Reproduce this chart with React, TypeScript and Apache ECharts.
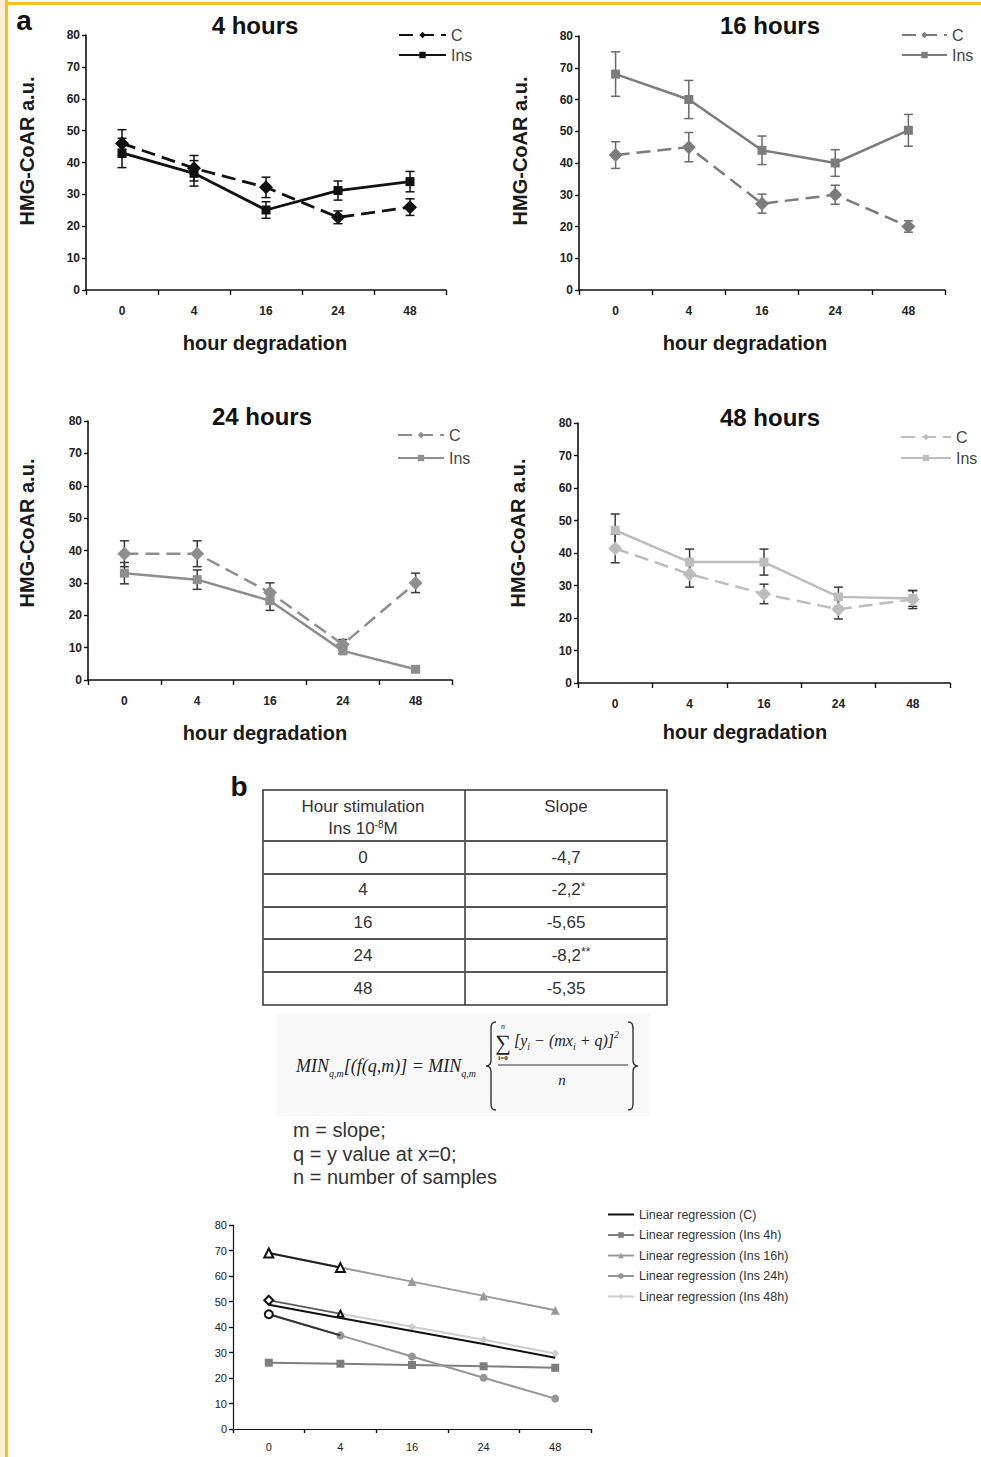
import React, { useEffect, useRef } from "react";
import * as echarts from "echarts";

// ---------- data ----------
const hours = ["0", "4", "16", "24", "48"];

// panel "4 hours"
const c4h = [46, 38.2, 32.2, 22.8, 26];
const c4hErr = [4.3, 4, 3.2, 2, 2.6];
const ins4h = [43, 36.6, 25.1, 31.2, 34];
const ins4hErr = [4.6, 4, 2.6, 3, 3.2];

// panel "16 hours"
const c16h = [42.5, 45, 27.2, 30, 20];
const c16hErr = [4.2, 4.6, 3, 3, 1.8];
const ins16h = [68, 60, 44, 40, 50.3];
const ins16hErr = [7, 6, 4.5, 4.2, 5];

// panel "24 hours"
const c24h = [39, 39, 27, 11, 30];
const c24hErr = [4, 4, 3, 1.5, 3];
const ins24h = [33, 31, 24.5, 9, 3.3];
const ins24hErr = [3.3, 3, 3, 1, 0.5];

// panel "48 hours"
const c48h = [41.4, 33.5, 27.4, 22.7, 25.7];
const c48hErr = [4.4, 4, 3, 3, 2.8];
const ins48h = [47, 37.2, 37.2, 26.5, 26];
const ins48hErr = [5, 4, 4, 3, 2.4];

// table (b)
const tableHours = ["0", "4", "16", "24", "48"];
const tableSlopes = ["-4,7", "-2,2", "-5,65", "-8,2", "-5,35"];
const tableMarks = ["", "*", "", "**", ""];

// linear regressions
const regC = [48.7, 43.5, 38.4, 33.3, 27.9];
const regIns4 = [26, 25.6, 25.1, 24.6, 24];
const regIns16 = [69, 63.3, 57.8, 52.2, 46.6];
const regIns24 = [45, 36.7, 28.4, 20.1, 11.9];
const regIns48 = [50.5, 45.2, 40.1, 35, 29.6];

const notes = ["m = slope;", "q = y value at x=0;", "n = number of samples"];

// ---------- layout / style ----------
const FONT = "Liberation Sans, Arial, Helvetica, sans-serif";
const SERIF = "Liberation Serif, Times New Roman, serif";

echarts.graphic.registerShape(
  "brace",
  echarts.graphic.extendPath(
    "M10,0 C6,0 5,2 5,7 L5,38 C5,42 3,44 0,44 C3,44 5,46 5,50 L5,81 C5,86 6,88 10,88",
    {}
  )
);

const panelData = [
  { c: c4h, cErr: c4hErr, ins: ins4h, insErr: ins4hErr },
  { c: c16h, cErr: c16hErr, ins: ins16h, insErr: ins16hErr },
  { c: c24h, cErr: c24hErr, ins: ins24h, insErr: ins24hErr },
  { c: c48h, cErr: c48hErr, ins: ins48h, insErr: ins48hErr },
];

const panelLayout = [
  { title: "4 hours", grid: { left: 86, top: 35, width: 360, height: 255 }, titlePos: [255, 25], yName: [27, 151], xName: [265, 343], legend: { left: 398, top: 26, itemWidth: 47, itemGap: 2 }, line: "#111111", err: "#111111" },
  { title: "16 hours", grid: { left: 579, top: 36, width: 366, height: 254 }, titlePos: [770, 25], yName: [520, 151], xName: [745, 343], legend: { left: 901, top: 26, itemWidth: 45, itemGap: 2 }, line: "#7c7c7c", err: "#6a6a6a" },
  { title: "24 hours", grid: { left: 88, top: 421, width: 364, height: 259 }, titlePos: [262, 416], yName: [27, 533], xName: [265, 733], legend: { left: 397, top: 426, itemWidth: 46, itemGap: 5 }, line: "#8e8e8e", err: "#3a3a3a" },
  { title: "48 hours", grid: { left: 578, top: 423, width: 372, height: 260 }, titlePos: [770, 417], yName: [518, 533], xName: [745, 732], legend: { left: 900, top: 428, itemWidth: 50, itemGap: 3 }, line: "#bdbdbd", err: "#3a3a3a" },
];

const bottomGrid = { left: 233, top: 1225, width: 358, height: 204 };

function errRender(color: string, cap: number) {
  return (params: any, api: any) => {
    const x = api.value(0);
    const lo = api.coord([x, api.value(1)]);
    const hi = api.coord([x, api.value(2)]);
    const style = { stroke: color, lineWidth: 1.5 };
    return {
      type: "group",
      children: [
        { type: "line", shape: { x1: lo[0], y1: lo[1], x2: hi[0], y2: hi[1] }, style },
        { type: "line", shape: { x1: lo[0] - cap, y1: lo[1], x2: lo[0] + cap, y2: lo[1] }, style },
        { type: "line", shape: { x1: hi[0] - cap, y1: hi[1], x2: hi[0] + cap, y2: hi[1] }, style },
      ],
    };
  };
}

function buildOption() {
  const grids: any[] = [...panelLayout.map((p) => p.grid), bottomGrid];
  const xAxis = grids.map((g, i) => ({
    type: "category",
    gridIndex: i,
    data: hours,
    boundaryGap: true,
    axisLine: { show: true, lineStyle: { color: "#111", width: i < 4 ? 1.6 : 1.2 } },
    axisTick: { show: true, length: i < 4 ? 5 : 4, lineStyle: { color: "#111", width: 1.4 } },
    axisLabel: { fontSize: i < 4 ? 12 : 11, fontWeight: i < 4 ? "bold" : "normal", color: "#222", margin: i < 4 ? 15 : 12, fontFamily: FONT },
    splitLine: { show: false },
  }));
  const yAxis = grids.map((g, i) => ({
    type: "value",
    gridIndex: i,
    min: 0,
    max: 80,
    interval: 10,
    axisLine: { show: true, lineStyle: { color: "#111", width: i < 4 ? 1.6 : 1.2 } },
    axisTick: { show: true, length: 4, lineStyle: { color: "#111", width: 1.4 } },
    axisLabel: { fontSize: i < 4 ? 12 : 11, fontWeight: i < 4 ? "bold" : "normal", color: "#222", margin: 6, fontFamily: FONT },
    splitLine: { show: false },
  }));

  const series: any[] = [];
  const legends: any[] = [];
  const graphics: any[] = [];

  panelLayout.forEach((p, i) => {
    const d = panelData[i];
    const w = i === 0 ? 2.8 : 2.5;
    series.push({
      type: "custom",
      name: `errC_${i}`,
      xAxisIndex: i,
      yAxisIndex: i,
      z: 1,
      renderItem: errRender(p.err, 4.5),
      encode: { x: 0, y: [1, 2] },
      data: d.c.map((v, k) => [k, v - d.cErr[k], v + d.cErr[k]]),
    });
    series.push({
      type: "custom",
      name: `errIns_${i}`,
      xAxisIndex: i,
      yAxisIndex: i,
      z: 1,
      renderItem: errRender(p.err, 4.5),
      encode: { x: 0, y: [1, 2] },
      data: d.ins.map((v, k) => [k, v - d.insErr[k], v + d.insErr[k]]),
    });
    series.push({
      type: "line",
      name: `C_${i}`,
      xAxisIndex: i,
      yAxisIndex: i,
      data: d.c,
      symbol: "diamond",
      symbolSize: 14,
      z: 3,
      itemStyle: { color: p.line },
      lineStyle: { color: p.line, width: w, type: [14, 7] },
    });
    series.push({
      type: "line",
      name: `Ins_${i}`,
      xAxisIndex: i,
      yAxisIndex: i,
      data: d.ins,
      symbol: "rect",
      symbolSize: 9,
      z: 3,
      itemStyle: { color: p.line },
      lineStyle: { color: p.line, width: w, type: "solid" },
    });
    legends.push({
      data: [`C_${i}`, `Ins_${i}`],
      orient: "vertical",
      left: p.legend.left,
      top: p.legend.top,
      itemWidth: p.legend.itemWidth,
      itemHeight: 8,
      itemGap: p.legend.itemGap,
      padding: 0,
      selectedMode: false,
      formatter: (name: string) => name.replace(/_.*$/, ""),
      textStyle: { fontSize: 16, lineHeight: 18, color: "#444", fontFamily: FONT },
    });
    graphics.push({
      type: "text",
      x: p.titlePos[0],
      y: p.titlePos[1],
      style: { text: p.title, fontSize: 24, fontWeight: "bold", fontFamily: FONT, fill: "#111", textAlign: "center", textVerticalAlign: "middle" },
    });
    graphics.push({
      type: "text",
      x: p.yName[0],
      y: p.yName[1],
      rotation: Math.PI / 2,
      style: { text: "HMG-CoAR a.u.", fontSize: 20, fontWeight: "bold", fontFamily: FONT, fill: "#1a1a1a", textAlign: "center", textVerticalAlign: "middle" },
    });
    graphics.push({
      type: "text",
      x: p.xName[0],
      y: p.xName[1],
      style: { text: "hour degradation", fontSize: 20, fontWeight: "bold", fontFamily: FONT, fill: "#1a1a1a", textAlign: "center", textVerticalAlign: "middle" },
    });
  });

  // bottom regression chart
  const bi = 4;
  const regDefs = [
    { name: "Linear regression (C)", data: regC, color: "#111111", symbol: "none", size: 0, width: 2 },
    { name: "Linear regression (Ins 4h)", data: regIns4, color: "#7e7e7e", symbol: "rect", size: 8, width: 2 },
    { name: "Linear regression (Ins 16h)", data: regIns16, color: "#9a9a9a", symbol: "triangle", size: 9, width: 2 },
    { name: "Linear regression (Ins 24h)", data: regIns24, color: "#969696", symbol: "circle", size: 8, width: 2 },
    { name: "Linear regression (Ins 48h)", data: regIns48, color: "#cdcdcd", symbol: "diamond", size: 8, width: 2 },
  ];
  regDefs.forEach((r) => {
    series.push({
      type: "line",
      name: r.name,
      xAxisIndex: bi,
      yAxisIndex: bi,
      data: r.data,
      symbol: r.symbol,
      symbolSize: r.size,
      z: r.name.indexOf("(C)") >= 0 ? 4 : 3,
      itemStyle: { color: r.color },
      lineStyle: { color: r.color, width: r.width },
    });
  });
  // dark first segments over regression lines
  series.push({
    type: "line",
    name: "ovl16",
    xAxisIndex: bi,
    yAxisIndex: bi,
    z: 5,
    data: regIns16.map((v, k) => (k < 2 ? v : "-")),
    symbol: "emptyTriangle",
    symbolSize: 9,
    itemStyle: { color: "#111" },
    lineStyle: { color: "#222", width: 2 },
  });
  series.push({
    type: "line",
    name: "ovl24",
    xAxisIndex: bi,
    yAxisIndex: bi,
    z: 5,
    data: regIns24.map((v, k) => (k === 0 ? { value: v, symbol: "emptyCircle" } : k === 1 ? { value: v, symbol: "none" } : "-")),
    symbolSize: 8,
    itemStyle: { color: "#111" },
    lineStyle: { color: "#333", width: 2 },
  });
  series.push({
    type: "line",
    name: "ovl48",
    xAxisIndex: bi,
    yAxisIndex: bi,
    z: 5,
    data: regIns48.map((v, k) => (k === 0 ? { value: v, symbol: "emptyDiamond" } : k === 1 ? { value: v, symbol: "emptyTriangle", symbolSize: 6 } : "-")),
    symbolSize: 9,
    itemStyle: { color: "#111" },
    lineStyle: { color: "#555", width: 1.6 },
  });
  legends.push({
    data: regDefs.map((r) => (r.symbol === "none" ? { name: r.name, itemStyle: { opacity: 0 } } : r.name)),
    orient: "vertical",
    left: 607,
    top: 1207,
    itemWidth: 26,
    itemHeight: 7,
    itemGap: 5.5,
    padding: 0,
    selectedMode: false,
    textStyle: { fontSize: 12.5, lineHeight: 15, color: "#333", fontFamily: FONT },
  });

  // page frame
  graphics.push({ type: "rect", shape: { x: 0, y: 0, width: 5, height: 1457 }, style: { fill: "#fdf0d2" }, z: 0 });
  graphics.push({ type: "rect", shape: { x: 5, y: 0, width: 3, height: 1457 }, style: { fill: "#f5c21b" }, z: 0 });
  graphics.push({ type: "rect", shape: { x: 5, y: 2, width: 976, height: 3 }, style: { fill: "#f5c21b" }, z: 0 });

  // panel letters
  graphics.push({ type: "text", x: 24, y: 20, style: { text: "a", fontSize: 28, fontWeight: "bold", fontFamily: FONT, fill: "#111", textAlign: "center", textVerticalAlign: "middle" } });
  graphics.push({ type: "text", x: 239, y: 786, style: { text: "b", fontSize: 28, fontWeight: "bold", fontFamily: FONT, fill: "#111", textAlign: "center", textVerticalAlign: "middle" } });

  // table
  const tL = 263, tR = 667, tT = 790, tB = 1005, tMid = 465;
  const rowLines = [841, 874, 907, 939, 972];
  graphics.push({ type: "rect", shape: { x: tL, y: tT, width: tR - tL, height: tB - tT }, style: { fill: "none", stroke: "#333", lineWidth: 1.5 } });
  graphics.push({ type: "line", shape: { x1: tMid, y1: tT, x2: tMid, y2: tB }, style: { stroke: "#333", lineWidth: 1.5 } });
  rowLines.forEach((y) => {
    graphics.push({ type: "line", shape: { x1: tL, y1: y, x2: tR, y2: y }, style: { stroke: "#555", lineWidth: 2 } });
  });
  const cellStyle = { fontSize: 17, fontFamily: FONT, fill: "#333", textAlign: "center", textVerticalAlign: "middle" };
  graphics.push({ type: "text", x: 363, y: 806, style: { ...cellStyle, text: "Hour stimulation" } });
  graphics.push({
    type: "text",
    x: 363,
    y: 828,
    style: { ...cellStyle, text: "Ins 10{sup|-8}M", lineHeight: 18, rich: { sup: { fontSize: 10, fontFamily: FONT, fill: "#333", verticalAlign: "top", lineHeight: 8 } } },
  });
  graphics.push({ type: "text", x: 566, y: 806, style: { ...cellStyle, text: "Slope" } });
  tableHours.forEach((h, k) => {
    const y = 857 + k * 32.8;
    graphics.push({ type: "text", x: 363, y, style: { ...cellStyle, text: h } });
    const mark = tableMarks[k];
    graphics.push({
      type: "text",
      x: 566 + (mark ? mark.length * 2.5 : 0),
      y,
      style: {
        ...cellStyle,
        text: mark ? `${tableSlopes[k]}{sup|${mark}}` : tableSlopes[k],
        lineHeight: 18,
        rich: { sup: { fontSize: 12, fontFamily: FONT, fill: "#333", verticalAlign: "top", lineHeight: 9 } },
      },
    });
  });

  // formula
  graphics.push({ type: "rect", shape: { x: 276, y: 1014, width: 374, height: 102 }, style: { fill: "#f8f8f8" }, z: 0 });
  const fStyle = { fontFamily: SERIF, fontStyle: "italic", fill: "#222" };
  const subRich = {
    s: { ...fStyle, fontSize: 10, verticalAlign: "bottom", lineHeight: 11 },
    p: { ...fStyle, fontSize: 10, verticalAlign: "top", lineHeight: 10 },
  };
  graphics.push({
    type: "text",
    x: 296,
    y: 1066,
    style: { ...fStyle, fontSize: 18, lineHeight: 24, text: "MIN{s|q,m}[(f(q,m)] = MIN{s|q,m}", textAlign: "left", textVerticalAlign: "middle", rich: subRich },
  });
  graphics.push({ type: "brace", x: 486, y: 1022, style: { stroke: "#333", fill: "none", lineWidth: 1.4 } });
  graphics.push({ type: "brace", x: 638, y: 1022, scaleX: -1, style: { stroke: "#333", fill: "none", lineWidth: 1.4 } });
  graphics.push({ type: "text", x: 503, y: 1042, style: { text: "∑", fontFamily: SERIF, fontSize: 22, fill: "#222", textAlign: "center", textVerticalAlign: "middle" } });
  graphics.push({ type: "text", x: 503, y: 1026, style: { fontFamily: SERIF, fontStyle: "italic", fill: "#222", text: "n", fontSize: 8, textAlign: "center", textVerticalAlign: "middle" } });
  graphics.push({ type: "text", x: 503, y: 1058, style: { fontFamily: SERIF, fontWeight: "bold", fill: "#222", text: "i=0", fontSize: 7, textAlign: "center", textVerticalAlign: "middle" } });
  graphics.push({
    type: "text",
    x: 514,
    y: 1040,
    style: { ...fStyle, fontSize: 16, lineHeight: 22, text: "[y{s|i} − (mx{s|i} + q)]{p|2}", textAlign: "left", textVerticalAlign: "middle", rich: subRich },
  });
  graphics.push({ type: "line", shape: { x1: 498, y1: 1065, x2: 628, y2: 1065 }, style: { stroke: "#333", lineWidth: 1 } });
  graphics.push({ type: "text", x: 562, y: 1080, style: { ...fStyle, text: "n", fontSize: 15, textAlign: "center", textVerticalAlign: "middle" } });

  // notes
  notes.forEach((t, k) => {
    graphics.push({ type: "text", x: 293, y: 1130 + k * 23.5, style: { text: t, fontSize: 20, fontFamily: FONT, fill: "#333", textAlign: "left", textVerticalAlign: "middle" } });
  });

  return {
    animation: false,
    backgroundColor: "#ffffff",
    textStyle: { fontFamily: FONT },
    grid: grids,
    xAxis,
    yAxis,
    legend: legends,
    series,
    graphic: { elements: graphics },
  };
}

export default function App() {
  const ref = useRef<HTMLDivElement>(null);
  useEffect(() => {
    if (!ref.current) return;
    const chart = echarts.init(ref.current, undefined, { renderer: "svg" });
    chart.setOption(buildOption() as any);
    return () => chart.dispose();
  }, []);
  return (
    <div
      ref={ref}
      style={{ position: "absolute", left: 0, top: 0, width: 981, height: 1457, background: "#fff" }}
    />
  );
}
